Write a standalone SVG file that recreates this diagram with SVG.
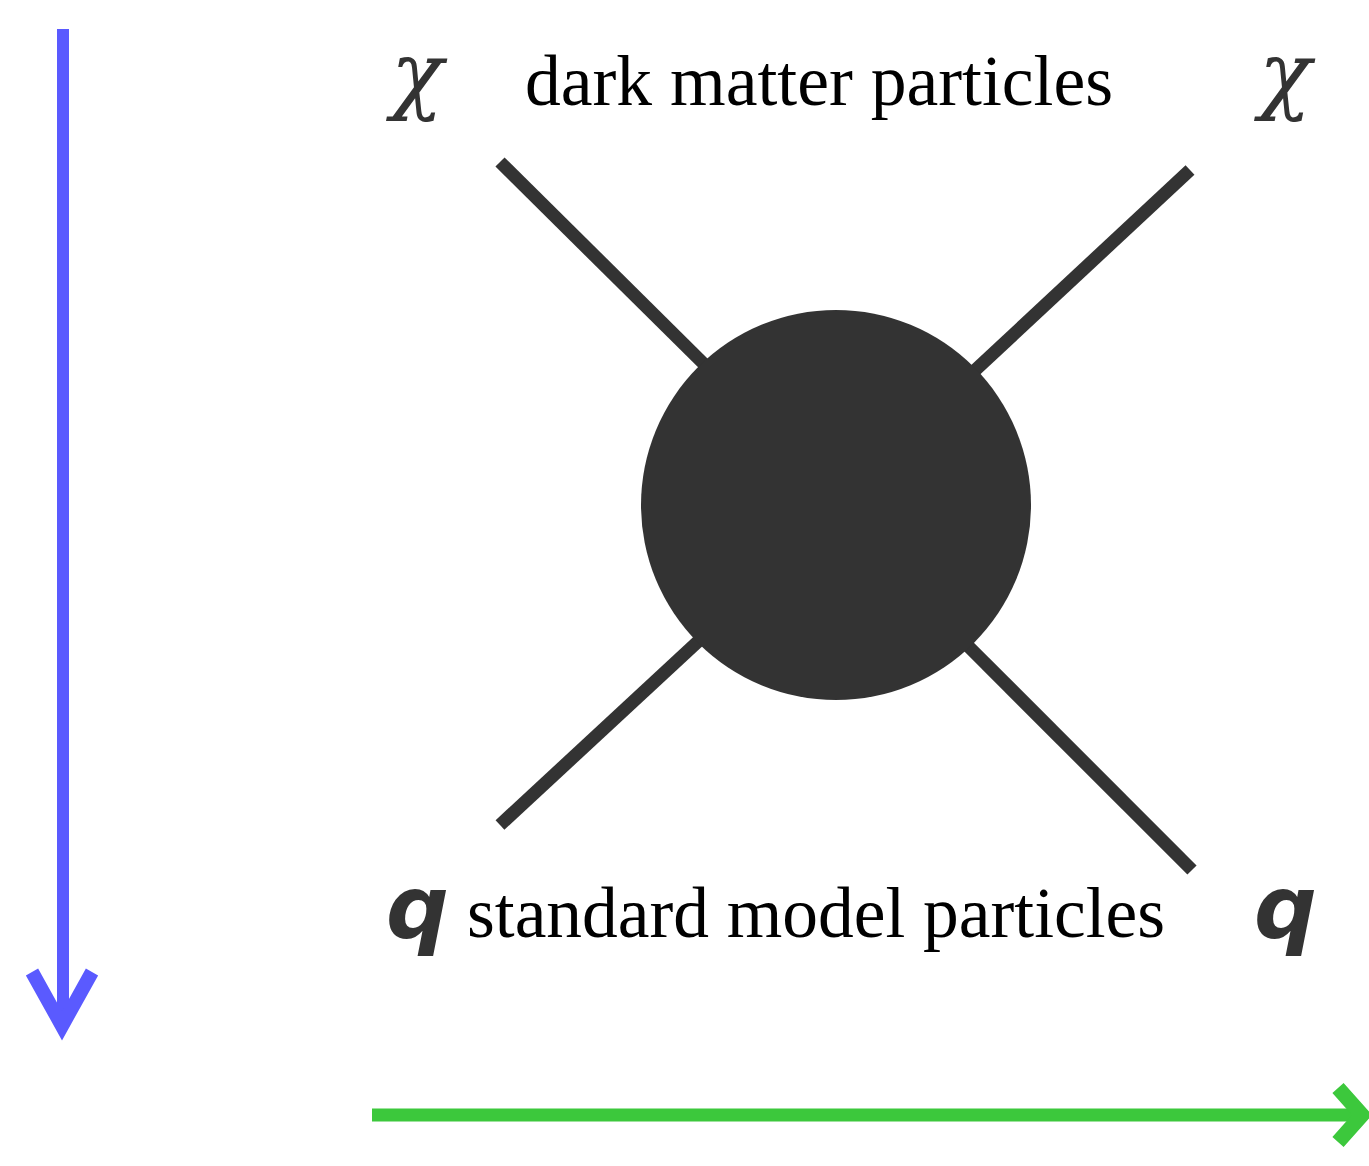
<svg xmlns="http://www.w3.org/2000/svg" width="1369" height="1166" viewBox="0 0 1369 1166">
<style>
.leg{stroke:#333333;stroke-width:13;stroke-linecap:butt;fill:none}
.lbl{font-family:"Liberation Serif","Times New Roman",serif;font-size:72px;fill:#000}
.sym{font-family:"DejaVu Serif","Liberation Serif",serif;font-style:italic;fill:#333333}
.qs{font-family:"DejaVu Sans","Liberation Sans",sans-serif;font-style:italic;font-weight:bold;fill:#333333}
</style>
<rect width="1369" height="1166" fill="#ffffff"/>
<g id="connectors">
<line class="leg" x1="500" y1="162" x2="710" y2="370"/>
<line class="leg" x1="1190" y1="170" x2="970" y2="375"/>
<line class="leg" x1="500" y1="825" x2="705" y2="635"/>
<line class="leg" x1="965" y1="643" x2="1192" y2="870"/>
</g>
<g id="vertex"><circle cx="836" cy="505" r="195" fill="#333333"/></g>
<g id="time-arrow">
<line x1="63" y1="29" x2="63" y2="1022" stroke="#5a5aff" stroke-width="12"/>
<polyline points="32,972 62,1026 92,972" fill="none" stroke="#5a5aff" stroke-width="14" stroke-linejoin="miter"/>
</g>
<g id="space-arrow">
<line x1="372" y1="1115" x2="1358" y2="1115" stroke="#3cc83c" stroke-width="13"/>
<polyline points="1338,1088 1362,1115 1338,1142" fill="none" stroke="#3cc83c" stroke-width="15"/>
</g>
<g id="chi-left"><text class="sym" x="391" y="103" font-size="86">χ</text></g>
<g id="chi-right"><text class="sym" x="1259" y="103" font-size="86">χ</text></g>
<g id="q-left"><text class="qs" x="386" y="938" font-size="88">q</text></g>
<g id="q-right"><text class="qs" x="1254" y="938" font-size="88">q</text></g>
<g id="label-dm"><text class="lbl" x="525" y="105" textLength="588" lengthAdjust="spacingAndGlyphs">dark matter particles</text></g>
<g id="label-sm"><text class="lbl" x="467" y="937" textLength="698" lengthAdjust="spacingAndGlyphs">standard model particles</text></g>
</svg>
